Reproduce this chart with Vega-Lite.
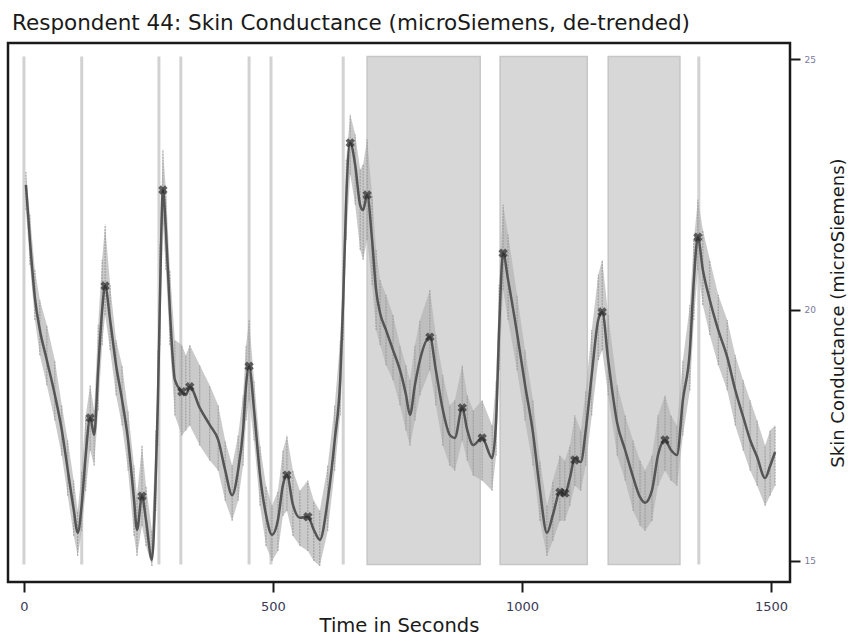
{
  "$schema": "https://vega.github.io/schema/vega-lite/v6.json",
  "width": 782,
  "height": 539,
  "autosize": {"type": "none"},
  "padding": {"left": 8, "top": 43, "right": 59, "bottom": 61},
  "background": "white",
  "config": {
    "font": "DejaVu Sans",
    "view": {"stroke": "#1a1a1a", "strokeWidth": 2.5}
  },
  "title": {
    "text": "Respondent 44: Skin Conductance (microSiemens, de-trended)",
    "anchor": "start",
    "frame": "group",
    "fontSize": 21.5,
    "fontWeight": "normal",
    "color": "#1a1a1a",
    "offset": 9,
    "dx": 4
  },
  "datasets": {
    "sc": [
      {"t": 4, "v": 22.49, "lo": 22.0, "hi": 22.75},
      {"t": 12, "v": 21.39, "lo": 20.9, "hi": 21.9},
      {"t": 22, "v": 20.24, "lo": 19.8, "hi": 20.8},
      {"t": 32, "v": 19.6, "lo": 19.1, "hi": 20.2},
      {"t": 46, "v": 19.0, "lo": 18.5, "hi": 19.7},
      {"t": 62, "v": 18.31, "lo": 17.8, "hi": 19.0},
      {"t": 76, "v": 17.61, "lo": 17.1, "hi": 18.1},
      {"t": 88, "v": 16.81, "lo": 16.3, "hi": 17.4},
      {"t": 100, "v": 16.02, "lo": 15.5, "hi": 16.6},
      {"t": 108, "v": 15.56, "lo": 15.1, "hi": 16.0},
      {"t": 116, "v": 16.12, "lo": 15.6, "hi": 16.8},
      {"t": 124, "v": 17.11, "lo": 16.4, "hi": 17.9},
      {"t": 133, "v": 17.85, "lo": 17.2, "hi": 18.5},
      {"t": 141, "v": 17.51, "lo": 16.9, "hi": 18.0},
      {"t": 149, "v": 18.8, "lo": 18.0, "hi": 19.7},
      {"t": 157, "v": 20.0, "lo": 19.3, "hi": 21.0},
      {"t": 163, "v": 20.48, "lo": 19.9, "hi": 21.7},
      {"t": 173, "v": 19.8, "lo": 19.2, "hi": 20.5},
      {"t": 185, "v": 18.9, "lo": 18.3, "hi": 19.4},
      {"t": 197, "v": 18.21, "lo": 17.7, "hi": 18.9},
      {"t": 209, "v": 17.41, "lo": 16.8, "hi": 18.0},
      {"t": 221, "v": 16.22, "lo": 15.5, "hi": 16.9},
      {"t": 227, "v": 15.62, "lo": 15.1, "hi": 16.3},
      {"t": 237, "v": 16.29, "lo": 15.7, "hi": 17.3},
      {"t": 245, "v": 15.82, "lo": 15.3, "hi": 16.5},
      {"t": 257, "v": 15.02, "lo": 14.9, "hi": 15.6},
      {"t": 265, "v": 16.81, "lo": 16.0, "hi": 17.6},
      {"t": 269, "v": 18.21, "lo": 17.3, "hi": 19.2},
      {"t": 273, "v": 20.2, "lo": 19.3, "hi": 21.3},
      {"t": 279, "v": 22.39, "lo": 21.7, "hi": 23.2},
      {"t": 285, "v": 21.59, "lo": 20.8, "hi": 22.4},
      {"t": 293, "v": 20.0, "lo": 19.3, "hi": 20.8},
      {"t": 303, "v": 18.61, "lo": 17.9, "hi": 19.4},
      {"t": 317, "v": 18.37, "lo": 17.5, "hi": 19.3},
      {"t": 325, "v": 18.31, "lo": 17.6, "hi": 19.1},
      {"t": 333, "v": 18.47, "lo": 17.7, "hi": 19.3},
      {"t": 353, "v": 18.05, "lo": 17.3, "hi": 18.9},
      {"t": 373, "v": 17.71, "lo": 17.0, "hi": 18.5},
      {"t": 390, "v": 17.41, "lo": 16.8, "hi": 18.1},
      {"t": 404, "v": 16.81, "lo": 16.2, "hi": 17.4},
      {"t": 418, "v": 16.31, "lo": 15.8, "hi": 16.9},
      {"t": 430, "v": 16.81, "lo": 16.2, "hi": 17.5},
      {"t": 440, "v": 17.61, "lo": 16.9, "hi": 18.3},
      {"t": 446, "v": 18.51, "lo": 17.8, "hi": 19.3},
      {"t": 452, "v": 18.88, "lo": 18.2, "hi": 19.8},
      {"t": 462, "v": 18.01, "lo": 17.4, "hi": 18.6},
      {"t": 474, "v": 16.71, "lo": 16.1, "hi": 17.3},
      {"t": 486, "v": 15.92, "lo": 15.3, "hi": 16.5},
      {"t": 498, "v": 15.52, "lo": 15.0, "hi": 16.1},
      {"t": 510, "v": 15.82, "lo": 15.2, "hi": 16.4},
      {"t": 520, "v": 16.51, "lo": 15.9, "hi": 17.2},
      {"t": 528, "v": 16.71, "lo": 16.0, "hi": 17.5},
      {"t": 540, "v": 16.12, "lo": 15.5, "hi": 16.8},
      {"t": 554, "v": 15.86, "lo": 15.3, "hi": 16.4},
      {"t": 570, "v": 15.88, "lo": 15.2, "hi": 16.6},
      {"t": 582, "v": 15.62, "lo": 15.0, "hi": 16.2},
      {"t": 594, "v": 15.42, "lo": 14.9, "hi": 16.0},
      {"t": 610, "v": 16.22, "lo": 15.6, "hi": 16.9},
      {"t": 624, "v": 17.41, "lo": 16.8, "hi": 18.1},
      {"t": 635, "v": 18.61, "lo": 17.9, "hi": 19.4},
      {"t": 641, "v": 20.2, "lo": 19.4, "hi": 21.0},
      {"t": 647, "v": 22.19, "lo": 21.4, "hi": 23.0},
      {"t": 655, "v": 23.33, "lo": 22.7, "hi": 23.9},
      {"t": 665, "v": 22.89, "lo": 22.1, "hi": 23.5},
      {"t": 675, "v": 22.09, "lo": 21.2, "hi": 22.8},
      {"t": 681, "v": 21.99, "lo": 21.0, "hi": 22.9},
      {"t": 689, "v": 22.29, "lo": 21.4, "hi": 23.4},
      {"t": 699, "v": 21.39, "lo": 20.5, "hi": 22.3},
      {"t": 707, "v": 20.4, "lo": 19.6, "hi": 21.2},
      {"t": 715, "v": 19.94, "lo": 19.3, "hi": 20.6},
      {"t": 727, "v": 19.6, "lo": 18.9, "hi": 20.3},
      {"t": 741, "v": 19.2, "lo": 18.6, "hi": 19.9},
      {"t": 755, "v": 18.8, "lo": 18.1, "hi": 19.3},
      {"t": 767, "v": 18.31, "lo": 17.6, "hi": 18.9},
      {"t": 775, "v": 17.91, "lo": 17.3, "hi": 18.6},
      {"t": 785, "v": 18.51, "lo": 17.8, "hi": 19.3},
      {"t": 795, "v": 19.0, "lo": 18.3, "hi": 19.8},
      {"t": 815, "v": 19.46, "lo": 18.8, "hi": 20.4},
      {"t": 827, "v": 18.8, "lo": 18.1, "hi": 19.5},
      {"t": 841, "v": 18.01, "lo": 17.3, "hi": 18.7},
      {"t": 855, "v": 17.51, "lo": 16.9, "hi": 18.1},
      {"t": 865, "v": 17.45, "lo": 16.8, "hi": 18.2},
      {"t": 880, "v": 18.05, "lo": 17.4, "hi": 18.9},
      {"t": 890, "v": 17.61, "lo": 17.0, "hi": 18.3},
      {"t": 902, "v": 17.31, "lo": 16.7, "hi": 18.0},
      {"t": 920, "v": 17.45, "lo": 16.6, "hi": 18.2},
      {"t": 940, "v": 17.05, "lo": 16.4, "hi": 17.7},
      {"t": 948, "v": 17.81, "lo": 17.1, "hi": 18.6},
      {"t": 954, "v": 19.6, "lo": 18.8, "hi": 20.5},
      {"t": 962, "v": 21.13, "lo": 20.4, "hi": 22.1},
      {"t": 972, "v": 20.6, "lo": 19.8, "hi": 21.5},
      {"t": 990, "v": 19.54, "lo": 18.8, "hi": 20.3},
      {"t": 1006, "v": 18.51, "lo": 17.8, "hi": 19.2},
      {"t": 1022, "v": 17.55, "lo": 16.9, "hi": 18.2},
      {"t": 1036, "v": 16.41, "lo": 15.8, "hi": 17.0},
      {"t": 1050, "v": 15.56, "lo": 15.1, "hi": 16.1},
      {"t": 1062, "v": 15.92, "lo": 15.4, "hi": 16.6},
      {"t": 1076, "v": 16.37, "lo": 15.8, "hi": 17.1},
      {"t": 1086, "v": 16.33, "lo": 15.8, "hi": 17.0},
      {"t": 1096, "v": 16.65, "lo": 16.1, "hi": 17.3},
      {"t": 1106, "v": 17.05, "lo": 16.5, "hi": 17.9},
      {"t": 1118, "v": 16.97, "lo": 16.4, "hi": 17.6},
      {"t": 1128, "v": 17.61, "lo": 16.9, "hi": 18.4},
      {"t": 1140, "v": 18.71, "lo": 17.9, "hi": 19.6},
      {"t": 1153, "v": 19.8, "lo": 19.0, "hi": 20.7},
      {"t": 1161, "v": 19.96, "lo": 19.2, "hi": 21.0},
      {"t": 1173, "v": 19.0, "lo": 18.3, "hi": 19.9},
      {"t": 1191, "v": 17.75, "lo": 17.1, "hi": 18.5},
      {"t": 1207, "v": 17.21, "lo": 16.6, "hi": 17.9},
      {"t": 1223, "v": 16.67, "lo": 16.0, "hi": 17.4},
      {"t": 1237, "v": 16.27, "lo": 15.7, "hi": 17.0},
      {"t": 1247, "v": 16.16, "lo": 15.6, "hi": 16.8},
      {"t": 1261, "v": 16.41, "lo": 15.8, "hi": 17.1},
      {"t": 1273, "v": 17.11, "lo": 16.5, "hi": 17.9},
      {"t": 1287, "v": 17.41, "lo": 16.8, "hi": 18.3},
      {"t": 1299, "v": 17.21, "lo": 16.6, "hi": 17.9},
      {"t": 1311, "v": 17.11, "lo": 16.5, "hi": 17.7},
      {"t": 1323, "v": 18.21, "lo": 17.5, "hi": 19.0},
      {"t": 1337, "v": 19.2, "lo": 18.4, "hi": 20.1},
      {"t": 1345, "v": 20.6, "lo": 19.8, "hi": 21.4},
      {"t": 1353, "v": 21.45, "lo": 20.8, "hi": 22.2},
      {"t": 1363, "v": 20.8, "lo": 20.1, "hi": 21.6},
      {"t": 1377, "v": 20.2, "lo": 19.5, "hi": 21.0},
      {"t": 1394, "v": 19.6, "lo": 18.9, "hi": 20.3},
      {"t": 1412, "v": 19.06, "lo": 18.4, "hi": 19.8},
      {"t": 1428, "v": 18.41, "lo": 17.7, "hi": 19.1},
      {"t": 1444, "v": 17.87, "lo": 17.2, "hi": 18.6},
      {"t": 1458, "v": 17.41, "lo": 16.8, "hi": 18.2},
      {"t": 1472, "v": 17.07, "lo": 16.5, "hi": 17.8},
      {"t": 1488, "v": 16.65, "lo": 16.1, "hi": 17.3},
      {"t": 1498, "v": 16.89, "lo": 16.3, "hi": 17.6},
      {"t": 1508, "v": 17.17, "lo": 16.5, "hi": 17.7}
    ],
    "peaks": [
      {"t": 133, "v": 17.85}, {"t": 163, "v": 20.48}, {"t": 237, "v": 16.29},
      {"t": 279, "v": 22.39}, {"t": 317, "v": 18.37}, {"t": 333, "v": 18.47},
      {"t": 452, "v": 18.88}, {"t": 528, "v": 16.71}, {"t": 570, "v": 15.88},
      {"t": 655, "v": 23.33}, {"t": 689, "v": 22.29}, {"t": 815, "v": 19.46},
      {"t": 880, "v": 18.05}, {"t": 920, "v": 17.45}, {"t": 962, "v": 21.13},
      {"t": 1076, "v": 16.37}, {"t": 1086, "v": 16.35}, {"t": 1106, "v": 17.01},
      {"t": 1161, "v": 19.96}, {"t": 1287, "v": 17.41}, {"t": 1353, "v": 21.45}
    ],
    "events": [
      {"t": 0}, {"t": 116}, {"t": 271}, {"t": 315}, {"t": 452}, {"t": 496}, {"t": 641}, {"t": 1355}
    ],
    "blocks": [
      {"start": 689, "end": 916}, {"start": 956, "end": 1131}, {"start": 1173, "end": 1317}
    ]
  },
  "layer": [
    {
      "data": {"name": "blocks"},
      "mark": {"type": "rect", "fill": "#d7d7d7", "stroke": "#c6c6c6", "strokeWidth": 1.5},
      "encoding": {
        "x": {"field": "start", "type": "quantitative",
              "scale": {"domain": [-32, 1538], "nice": false, "zero": false},
              "axis": {"values": [0, 500, 1000, 1500], "format": "d", "domain": false, "grid": false, "tickSize": 10, "tickWidth": 2, "tickColor": "#1a1a1a", "labelFontSize": 13, "labelColor": "#3a3a55", "labelPadding": 8, "title": "Time in Seconds", "titleFontSize": 19.5, "titleFontWeight": "normal", "titleColor": "#1a1a1a", "titlePadding": 3}},
        "x2": {"field": "end"},
        "y": {"datum": 14.93, "type": "quantitative",
              "scale": {"domain": [14.58, 25.32], "nice": false, "zero": false},
              "axis": {"orient": "right", "values": [15, 20, 25], "domain": false, "grid": false, "tickSize": 10, "tickWidth": 2, "tickColor": "#1a1a1a", "labelFontSize": 9, "labelColor": "#7a7a99", "labelPadding": 4, "title": "Skin Conductance (microSiemens)", "titleAngle": 270, "titleFontSize": 18, "titleFontWeight": "normal", "titleColor": "#1a1a1a", "titlePadding": 32}},
        "y2": {"datum": 25.05}
      }
    },
    {
      "data": {"name": "events"},
      "mark": {"type": "rule", "color": "#d2d2d2", "strokeWidth": 3},
      "encoding": {
        "x": {"field": "t", "type": "quantitative"},
        "y": {"datum": 14.93, "type": "quantitative"},
        "y2": {"datum": 25.05}
      }
    },
    {
      "data": {"name": "sc"},
      "mark": {"type": "area", "color": "#b4b4b4", "opacity": 0.7},
      "encoding": {
        "x": {"field": "t", "type": "quantitative"},
        "y": {"field": "lo", "type": "quantitative"},
        "y2": {"field": "hi"}
      }
    },
    {
      "data": {"name": "sc"},
      "mark": {"type": "rule", "color": "#999999", "strokeWidth": 1, "strokeDash": [2, 1]},
      "encoding": {
        "x": {"field": "t", "type": "quantitative"},
        "y": {"field": "lo", "type": "quantitative"},
        "y2": {"field": "hi"}
      }
    },
    {
      "data": {"name": "sc"},
      "mark": {"type": "line", "color": "#555555", "strokeWidth": 2.5, "interpolate": "monotone"},
      "encoding": {
        "x": {"field": "t", "type": "quantitative"},
        "y": {"field": "v", "type": "quantitative"}
      }
    },
    {
      "data": {"name": "peaks"},
      "mark": {"type": "point", "shape": "cross", "angle": 45, "filled": true, "color": "#2a2a2a", "size": 90},
      "encoding": {
        "x": {"field": "t", "type": "quantitative"},
        "y": {"field": "v", "type": "quantitative"}
      }
    }
  ]
}
